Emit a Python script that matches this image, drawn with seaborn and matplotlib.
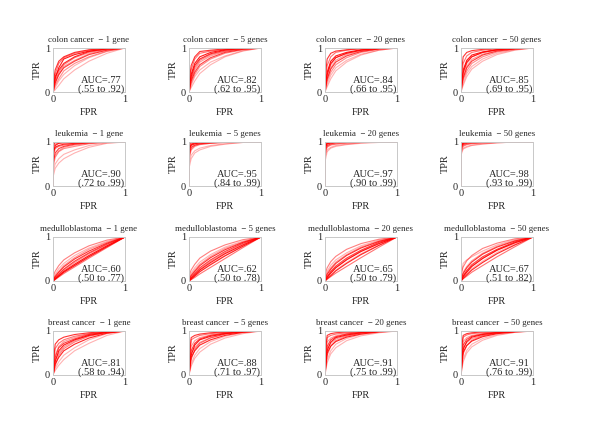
import matplotlib
matplotlib.use("Agg")
import matplotlib.pyplot as plt
import seaborn as sns
import pandas as pd

# ---------------- data ----------------
FPR = [0, 0, 0.03, 0.08, 0.15, 0.30, 0.50, 0.75, 1.0]

colon_1 = [[0.05, 0.30, 0.55, 0.75, 0.85, 0.93, 0.98], [0.10, 0.40, 0.65, 0.78, 0.88, 0.95, 1.0],
           [0.0, 0.10, 0.25, 0.40, 0.60, 0.78, 0.92], [0.0, 0.20, 0.40, 0.55, 0.70, 0.85, 0.95],
           [0.05, 0.25, 0.45, 0.62, 0.78, 0.90, 0.97], [0.0, 0.05, 0.15, 0.30, 0.50, 0.70, 0.88],
           [0.15, 0.50, 0.70, 0.80, 0.90, 0.96, 0.99], [0.0, 0.15, 0.30, 0.48, 0.65, 0.80, 0.93],
           [0.02, 0.35, 0.50, 0.65, 0.80, 0.92, 0.98], [0.0, 0.22, 0.38, 0.58, 0.72, 0.87, 0.96]]
colon_5 = [[0.05, 0.40, 0.65, 0.80, 0.90, 0.96, 0.99], [0.10, 0.50, 0.75, 0.88, 0.93, 0.97, 1.0],
           [0.0, 0.15, 0.35, 0.50, 0.68, 0.82, 0.94], [0.0, 0.25, 0.45, 0.62, 0.78, 0.90, 0.97],
           [0.05, 0.30, 0.55, 0.72, 0.85, 0.93, 0.98], [0.0, 0.10, 0.25, 0.42, 0.62, 0.80, 0.93],
           [0.20, 0.60, 0.80, 0.92, 0.95, 0.98, 1.0], [0.0, 0.20, 0.40, 0.58, 0.75, 0.88, 0.96],
           [0.05, 0.35, 0.60, 0.75, 0.87, 0.95, 0.99], [0.0, 0.28, 0.50, 0.68, 0.82, 0.92, 0.98]]
colon_20 = [[0.10, 0.45, 0.70, 0.82, 0.90, 0.96, 0.99], [0.20, 0.60, 0.80, 0.90, 0.95, 0.98, 1.0],
            [0.0, 0.18, 0.38, 0.55, 0.72, 0.86, 0.95], [0.05, 0.30, 0.52, 0.68, 0.82, 0.92, 0.98],
            [0.08, 0.38, 0.62, 0.78, 0.88, 0.95, 0.99], [0.0, 0.12, 0.30, 0.48, 0.68, 0.84, 0.95],
            [0.30, 0.75, 0.88, 0.93, 0.96, 0.99, 1.0], [0.0, 0.25, 0.45, 0.62, 0.78, 0.90, 0.97],
            [0.05, 0.40, 0.65, 0.78, 0.88, 0.95, 0.99], [0.02, 0.30, 0.55, 0.72, 0.85, 0.93, 0.98]]
colon_50 = [[0.10, 0.50, 0.72, 0.84, 0.91, 0.96, 0.99], [0.25, 0.65, 0.82, 0.90, 0.95, 0.98, 1.0],
            [0.0, 0.20, 0.42, 0.58, 0.75, 0.88, 0.96], [0.05, 0.32, 0.55, 0.70, 0.84, 0.93, 0.98],
            [0.10, 0.42, 0.65, 0.80, 0.90, 0.96, 0.99], [0.0, 0.15, 0.35, 0.52, 0.70, 0.85, 0.95],
            [0.35, 0.80, 0.90, 0.94, 0.97, 0.99, 1.0], [0.02, 0.28, 0.48, 0.65, 0.80, 0.91, 0.97],
            [0.08, 0.45, 0.68, 0.80, 0.90, 0.96, 0.99], [0.03, 0.35, 0.58, 0.74, 0.86, 0.94, 0.98]]

leuk_1 = [[0.70, 0.92, 0.97, 0.98, 0.99, 1.0, 1.0], [0.85, 0.95, 0.98, 1.0, 1.0, 1.0, 1.0],
          [0.30, 0.50, 0.62, 0.72, 0.82, 0.92, 0.98], [0.50, 0.75, 0.85, 0.90, 0.95, 0.98, 1.0],
          [0.60, 0.85, 0.90, 0.93, 0.96, 0.99, 1.0], [0.20, 0.40, 0.52, 0.62, 0.75, 0.88, 0.97],
          [0.90, 1.0, 1.0, 1.0, 1.0, 1.0, 1.0], [0.40, 0.65, 0.78, 0.85, 0.90, 0.96, 0.99],
          [0.75, 0.88, 0.92, 0.95, 0.97, 0.99, 1.0], [0.55, 0.70, 0.80, 0.88, 0.93, 0.97, 1.0]]
leuk_5 = [[0.80, 0.95, 0.98, 0.99, 1.0, 1.0, 1.0], [0.90, 0.98, 1.0, 1.0, 1.0, 1.0, 1.0],
          [0.50, 0.70, 0.80, 0.86, 0.92, 0.96, 0.99], [0.70, 0.88, 0.93, 0.96, 0.98, 1.0, 1.0],
          [0.75, 0.92, 0.96, 0.98, 0.99, 1.0, 1.0], [0.40, 0.62, 0.75, 0.82, 0.90, 0.95, 0.99],
          [0.95, 1.0, 1.0, 1.0, 1.0, 1.0, 1.0], [0.60, 0.82, 0.90, 0.94, 0.97, 0.99, 1.0],
          [0.85, 0.93, 0.96, 0.98, 0.99, 1.0, 1.0], [0.65, 0.85, 0.92, 0.95, 0.97, 0.99, 1.0]]
leuk_20 = [[0.85, 0.97, 0.99, 1.0, 1.0, 1.0, 1.0], [0.92, 1.0, 1.0, 1.0, 1.0, 1.0, 1.0],
           [0.65, 0.82, 0.88, 0.92, 0.95, 0.98, 1.0], [0.80, 0.92, 0.96, 0.98, 0.99, 1.0, 1.0],
           [0.88, 0.95, 0.98, 0.99, 1.0, 1.0, 1.0], [0.55, 0.78, 0.86, 0.90, 0.94, 0.97, 0.99],
           [0.95, 1.0, 1.0, 1.0, 1.0, 1.0, 1.0], [0.75, 0.90, 0.94, 0.96, 0.98, 0.99, 1.0],
           [0.90, 0.96, 0.98, 0.99, 1.0, 1.0, 1.0], [0.70, 0.88, 0.93, 0.95, 0.97, 0.99, 1.0]]
leuk_50 = [[0.88, 0.98, 1.0, 1.0, 1.0, 1.0, 1.0], [0.93, 1.0, 1.0, 1.0, 1.0, 1.0, 1.0],
           [0.75, 0.86, 0.90, 0.93, 0.96, 0.98, 1.0], [0.85, 0.94, 0.97, 0.98, 0.99, 1.0, 1.0],
           [0.90, 0.96, 0.98, 0.99, 1.0, 1.0, 1.0], [0.70, 0.84, 0.88, 0.92, 0.95, 0.98, 1.0],
           [0.96, 1.0, 1.0, 1.0, 1.0, 1.0, 1.0], [0.80, 0.92, 0.95, 0.97, 0.98, 0.99, 1.0],
           [0.92, 0.97, 0.99, 1.0, 1.0, 1.0, 1.0], [0.78, 0.90, 0.94, 0.96, 0.98, 0.99, 1.0]]

medullo_1 = [[0.0, 0.05, 0.12, 0.22, 0.38, 0.58, 0.80], [0.0, 0.03, 0.09, 0.17, 0.32, 0.52, 0.76],
             [0.05, 0.15, 0.28, 0.40, 0.58, 0.75, 0.90], [0.0, 0.08, 0.16, 0.27, 0.45, 0.64, 0.84],
             [0.10, 0.22, 0.35, 0.48, 0.64, 0.80, 0.93], [0.0, 0.05, 0.10, 0.20, 0.36, 0.56, 0.78],
             [0.02, 0.10, 0.20, 0.32, 0.50, 0.68, 0.86], [0.0, 0.06, 0.14, 0.25, 0.42, 0.62, 0.82],
             [0.0, 0.04, 0.11, 0.20, 0.35, 0.55, 0.78], [0.03, 0.12, 0.22, 0.35, 0.53, 0.72, 0.88]]
medullo_5 = [[0.0, 0.06, 0.14, 0.25, 0.42, 0.62, 0.82], [0.0, 0.03, 0.08, 0.16, 0.31, 0.51, 0.76],
             [0.05, 0.18, 0.30, 0.43, 0.60, 0.77, 0.91], [0.0, 0.08, 0.18, 0.30, 0.48, 0.67, 0.86],
             [0.12, 0.25, 0.38, 0.52, 0.68, 0.82, 0.94], [0.0, 0.05, 0.12, 0.22, 0.39, 0.58, 0.80],
             [0.02, 0.12, 0.22, 0.35, 0.53, 0.71, 0.88], [0.0, 0.07, 0.15, 0.27, 0.45, 0.64, 0.84],
             [0.0, 0.04, 0.11, 0.21, 0.37, 0.57, 0.79], [0.03, 0.14, 0.25, 0.38, 0.56, 0.74, 0.89]]
medullo_20 = [[0.0, 0.08, 0.18, 0.30, 0.48, 0.67, 0.85], [0.0, 0.04, 0.10, 0.18, 0.33, 0.53, 0.77],
              [0.08, 0.22, 0.36, 0.48, 0.64, 0.80, 0.93], [0.0, 0.10, 0.22, 0.34, 0.52, 0.70, 0.88],
              [0.15, 0.30, 0.44, 0.56, 0.72, 0.85, 0.95], [0.0, 0.06, 0.14, 0.25, 0.42, 0.62, 0.82],
              [0.03, 0.15, 0.27, 0.40, 0.58, 0.75, 0.90], [0.0, 0.09, 0.19, 0.31, 0.49, 0.68, 0.86],
              [0.0, 0.05, 0.12, 0.23, 0.40, 0.60, 0.81], [0.05, 0.18, 0.30, 0.43, 0.60, 0.77, 0.91]]
medullo_50 = [[0.0, 0.10, 0.20, 0.33, 0.51, 0.70, 0.87], [0.0, 0.05, 0.11, 0.20, 0.35, 0.55, 0.78],
              [0.10, 0.40, 0.48, 0.55, 0.68, 0.82, 0.94], [0.0, 0.12, 0.24, 0.37, 0.55, 0.72, 0.89],
              [0.15, 0.32, 0.46, 0.58, 0.74, 0.86, 0.96], [0.0, 0.07, 0.16, 0.28, 0.45, 0.65, 0.84],
              [0.04, 0.17, 0.30, 0.43, 0.61, 0.77, 0.91], [0.0, 0.10, 0.21, 0.34, 0.52, 0.70, 0.87],
              [0.0, 0.06, 0.14, 0.25, 0.42, 0.62, 0.82], [0.05, 0.20, 0.33, 0.46, 0.63, 0.79, 0.92]]

breast_1 = [[0.0, 0.30, 0.55, 0.68, 0.80, 0.90, 0.97], [0.10, 0.60, 0.72, 0.80, 0.88, 0.94, 0.98],
            [0.0, 0.10, 0.22, 0.35, 0.55, 0.72, 0.90], [0.05, 0.40, 0.62, 0.72, 0.82, 0.92, 0.98],
            [0.0, 0.20, 0.45, 0.60, 0.75, 0.88, 0.96], [0.0, 0.15, 0.30, 0.45, 0.62, 0.80, 0.94],
            [0.20, 0.70, 0.80, 0.86, 0.92, 0.96, 0.99], [0.0, 0.35, 0.50, 0.64, 0.78, 0.90, 0.97],
            [0.0, 0.25, 0.40, 0.55, 0.70, 0.84, 0.95], [0.05, 0.45, 0.65, 0.76, 0.85, 0.93, 0.98]]
breast_5 = [[0.05, 0.45, 0.68, 0.80, 0.88, 0.94, 0.98], [0.20, 0.80, 0.85, 0.90, 0.94, 0.97, 0.99],
            [0.0, 0.20, 0.38, 0.52, 0.70, 0.84, 0.94], [0.10, 0.55, 0.72, 0.82, 0.90, 0.95, 0.99],
            [0.0, 0.35, 0.58, 0.72, 0.84, 0.93, 0.98], [0.0, 0.25, 0.45, 0.60, 0.76, 0.88, 0.96],
            [0.30, 0.85, 0.90, 0.93, 0.96, 0.98, 1.0], [0.05, 0.50, 0.62, 0.74, 0.85, 0.93, 0.98],
            [0.0, 0.40, 0.55, 0.68, 0.80, 0.90, 0.97], [0.15, 0.65, 0.78, 0.85, 0.91, 0.96, 0.99]]
breast_20 = [[0.10, 0.55, 0.75, 0.85, 0.91, 0.96, 0.99], [0.30, 0.85, 0.90, 0.93, 0.96, 0.98, 1.0],
             [0.0, 0.28, 0.48, 0.62, 0.78, 0.89, 0.96], [0.15, 0.65, 0.80, 0.87, 0.93, 0.97, 0.99],
             [0.05, 0.45, 0.65, 0.78, 0.88, 0.95, 0.99], [0.0, 0.35, 0.55, 0.70, 0.83, 0.92, 0.97],
             [0.45, 0.90, 0.94, 0.96, 0.98, 0.99, 1.0], [0.08, 0.60, 0.72, 0.82, 0.90, 0.95, 0.99],
             [0.02, 0.50, 0.66, 0.76, 0.86, 0.93, 0.98], [0.20, 0.75, 0.84, 0.89, 0.94, 0.97, 0.99]]
breast_50 = [[0.12, 0.58, 0.76, 0.86, 0.92, 0.96, 0.99], [0.35, 0.86, 0.91, 0.94, 0.96, 0.98, 1.0],
             [0.0, 0.30, 0.50, 0.64, 0.79, 0.90, 0.97], [0.15, 0.68, 0.81, 0.88, 0.93, 0.97, 0.99],
             [0.05, 0.48, 0.67, 0.79, 0.89, 0.95, 0.99], [0.0, 0.36, 0.56, 0.70, 0.83, 0.92, 0.97],
             [0.50, 0.90, 0.94, 0.96, 0.98, 0.99, 1.0], [0.10, 0.62, 0.74, 0.83, 0.90, 0.95, 0.99],
             [0.03, 0.52, 0.67, 0.77, 0.87, 0.94, 0.98], [0.22, 0.76, 0.85, 0.90, 0.94, 0.97, 0.99]]

DATASETS = ["colon cancer", "leukemia", "medulloblastoma", "breast cancer"]
GENES = ["1 gene", "5 genes", "20 genes", "50 genes"]
CURVES = [[colon_1, colon_5, colon_20, colon_50],
          [leuk_1, leuk_5, leuk_20, leuk_50],
          [medullo_1, medullo_5, medullo_20, medullo_50],
          [breast_1, breast_5, breast_20, breast_50]]
AUC = [[".77", ".82", ".84", ".85"],
       [".90", ".95", ".97", ".98"],
       [".60", ".62", ".65", ".67"],
       [".81", ".88", ".91", ".91"]]
CI = [["(.55 to .92)", "(.62 to .95)", "(.66 to .95)", "(.69 to .95)"],
      ["(.72 to .99)", "(.84 to .99)", "(.90 to .99)", "(.93 to .99)"],
      ["(.50 to .77)", "(.50 to .78)", "(.50 to .79)", "(.51 to .82)"],
      ["(.58 to .94)", "(.71 to .97)", "(.75 to .99)", "(.76 to .99)"]]

# ---------------- style ----------------
sns.set_theme(style="white")
plt.rcParams["font.family"] = ["Liberation Serif", "DejaVu Serif"]
FS = 7.5
FS_TITLE = 6.4
ALPHAS = [0.9, 0.55, 0.3, 0.75, 0.5, 0.3, 0.8, 0.45, 0.85, 0.4]

W, H = 600, 426
fig = plt.figure(figsize=(6, 4.26), dpi=100)
LEFTS = [53, 189, 325, 461]
TOPS = [48, 142, 237, 331]
AW, AH = 72, 44

for r in range(4):
    for c in range(4):
        ax = fig.add_axes([LEFTS[c] / W, 1 - (TOPS[r] + AH) / H, AW / W, AH / H])
        for k, tpr_mid in enumerate(CURVES[r][c]):
            tpr = [0.0] + list(tpr_mid) + [1.0]
            df = pd.DataFrame({"FPR": FPR, "TPR": tpr})
            sns.lineplot(data=df, x="FPR", y="TPR", ax=ax, estimator=None, sort=False,
                         color="#ff0000", alpha=ALPHAS[k], linewidth=0.8)
        ax.set_xlim(0, 1)
        ax.set_ylim(0, 1)
        ax.set_xticks([0, 1])
        ax.set_yticks([0, 1])
        ax.set_xticklabels(["0", "1"], fontsize=FS)
        ax.set_yticklabels(["0", "1"], fontsize=FS)
        ax.tick_params(length=0, pad=2)
        for s in ax.spines.values():
            s.set_color("#c8c8c8")
            s.set_linewidth(0.7)
        ax.set_xlabel("FPR", fontsize=FS, labelpad=3)
        ax.set_ylabel("TPR", fontsize=FS, labelpad=2)
        ax.set_title(f"{DATASETS[r]}  \u2212 {GENES[c]}", fontsize=FS_TITLE, pad=4.5)
        ax.text(0.67, 0.26, f"AUC={AUC[r][c]}", transform=ax.transAxes,
                ha="center", va="center", fontsize=FS)
        ax.text(0.67, 0.07, CI[r][c], transform=ax.transAxes,
                ha="center", va="center", fontsize=FS)

fig.savefig("out.png", dpi=100, facecolor="white")
